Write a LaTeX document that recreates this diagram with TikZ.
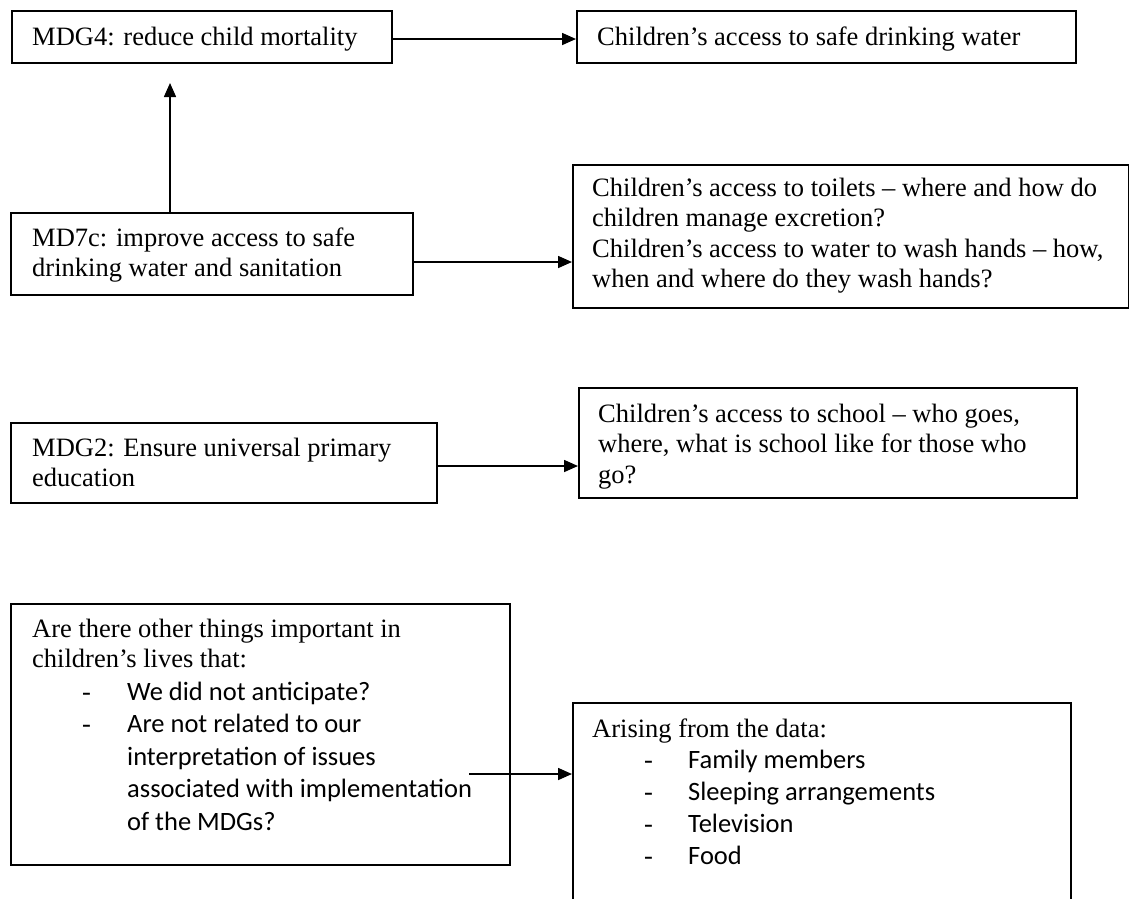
\documentclass[tikz,border=0pt]{standalone}
\usepackage{fontspec}
\setmainfont{Liberation Serif}
\newfontfamily\calfont{Carlito}
\usetikzlibrary{arrows.meta}
\newcommand\tmsize{\fontsize{26.5}{30.5}\selectfont}
\newcommand\tline[1]{\hbox{#1}}
\newcommand\dashitem[3]{\hbox{\hspace*{#1}\makebox[#2][l]{-}#3}}
\begin{document}
\begin{tikzpicture}[x=1pt,y=-1pt,
  box/.style={draw=black, line width=1.6pt, inner sep=0pt, anchor=north west, rectangle},
  txt/.style={anchor=base west, inner sep=0pt, font=\tmsize, text=black},
  arr/.style={draw=black, line width=1.6pt, -{Triangle[length=14pt,width=12pt]}}]
\useasboundingbox (0,0) rectangle (1129,898);
\clip (0,0) rectangle (1129,898);
\fill[white] (0,0) rectangle (1129,898);

% boxes
\node[box, minimum width=380pt, minimum height=52pt] (a) at (11,10) {};
\node[box, minimum width=499pt, minimum height=52pt] (b) at (576,10) {};
\node[box, minimum width=402pt, minimum height=82pt] (c) at (10,212) {};
\node[box, minimum width=556pt, minimum height=143pt] (d) at (572,164) {};
\node[box, minimum width=426pt, minimum height=80pt] (h) at (10,422) {};
\node[box, minimum width=498pt, minimum height=110pt] (g) at (578,387) {};
\node[box, minimum width=499pt, minimum height=261pt] (e) at (10,603) {};
\node[box, minimum width=498pt, minimum height=230pt] (f) at (572,702) {};

% texts
\node[txt] (ta) at (32,45) {MDG4: reduce child mortality};
\node[txt] (tb) at (597,45) {Children’s access to safe drinking water};
\node[txt] (tc) at (32,246) {\vtop{\tline{MD7c: improve access to safe}\tline{drinking water and sanitation}}};
\node[txt] (td) at (592,196) {\vtop{%
  \tline{Children’s access to toilets – where and how do}%
  \tline{children manage excretion?}%
  \tline{Children’s access to water to wash hands – how,}%
  \tline{when and where do they wash hands?}}};
\node[txt] (th) at (32,456) {\vtop{\tline{MDG2: Ensure universal primary}\tline{education}}};
\node[txt] (tg) at (598,422) {\vtop{%
  \tline{Children’s access to school – who goes,}%
  \tline{where, what is school like for those who}%
  \tline{go?}}};
\node[txt] (te) at (32,637) {\vtop{%
  \tline{Are there other things important in}%
  \tline{children’s lives that:}%
  \baselineskip=32.5pt
  \dashitem{50pt}{45pt}{\calfont We did not anticipate?}%
  \dashitem{50pt}{45pt}{\calfont Are not related to our}%
  \tline{\hspace*{95pt}\calfont interpretation of issues}%
  \tline{\hspace*{95pt}\calfont associated with implementation}%
  \tline{\hspace*{95pt}\calfont of the MDGs?}}};
\node[txt] (tf) at (592,737) {\vtop{%
  \tline{Arising from the data:}%
  \baselineskip=31pt
  \dashitem{52pt}{44pt}{\calfont Family members}%
  \baselineskip=32.3pt
  \dashitem{52pt}{44pt}{\calfont Sleeping arrangements}%
  \dashitem{52pt}{44pt}{\calfont Television}%
  \dashitem{52pt}{44pt}{\calfont Food}}};

% connector levels
\coordinate (yab) at (0,39);
\coordinate (ycd) at (0,262);
\coordinate (yhg) at (0,466);
\coordinate (tipA) at (170,83);
\coordinate (estart) at (469,774);

\draw[arr] (a.east |- yab) -- (b.west |- yab);
\draw[arr] (c.north -| tipA) -- (tipA);
\draw[arr] (c.east |- ycd) -- (d.west |- ycd);
\draw[arr] (h.east |- yhg) -- (g.west |- yhg);
\draw[arr] (estart) -- (f.west |- estart);
\end{tikzpicture}
\end{document}
